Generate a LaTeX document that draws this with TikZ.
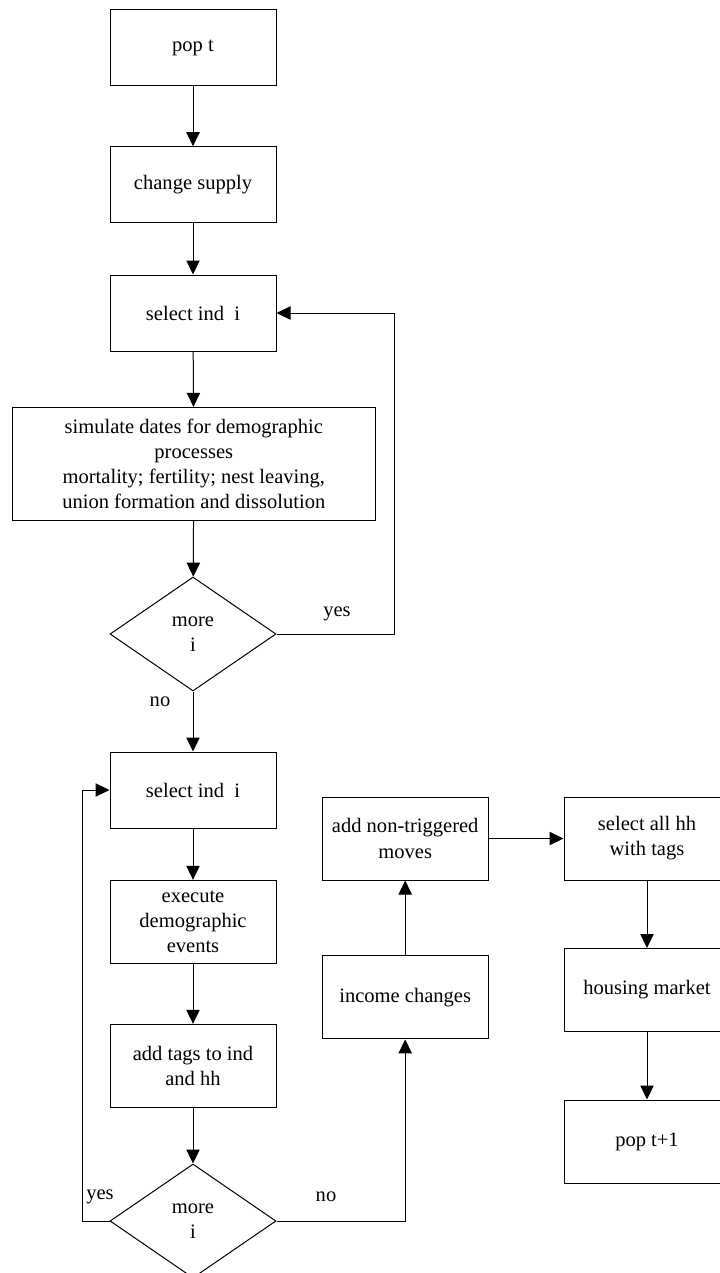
\documentclass[tikz,border=0pt]{standalone}
\usepackage{fontspec}
\setmainfont{Liberation Serif}
\usetikzlibrary{arrows.meta,shapes.geometric}
\begin{document}
\begin{tikzpicture}[x=0.75pt,y=-0.75pt,
  every node/.style={font=\fontsize{15.4pt}{18.8pt}\selectfont},
  stepbox/.style={draw, line width=0.75pt, minimum width=124.5pt, minimum height=57pt, inner sep=0pt, align=center},
  tallbox/.style={stepbox, minimum height=62.25pt},
  decision/.style={draw, diamond, line width=0.75pt, minimum width=124.5pt, minimum height=85.5pt, inner sep=0pt, align=center},
  flow/.style={-{Triangle[length=10.5pt,width=10pt]}, line width=0.75pt},
  lbl/.style={inner sep=0pt}]
\useasboundingbox (0,0) rectangle (720,1273);
\clip (0,0) rectangle (720,1273);

% first pass: demographic dates for every individual
\node[stepbox] (pop)  at (193,48)    {pop t};
\node[stepbox] (sup)  at (193,184.7) {change supply};
\node[stepbox] (sel1) at (193,313)   {select ind~~i};
\node[draw, line width=0.75pt, minimum width=272.25pt, minimum height=85pt, inner sep=0pt, align=center]
      (sim) at (193.8,464) {simulate dates for demographic\\processes\\mortality; fertility; nest leaving,\\union formation and dissolution};
\node[decision] (more1) at (193,634) {more\\i};

% second pass: execute events
\node[stepbox] (sel2) at (193,790)    {select ind~~i};
\node[tallbox] (exe)  at (193,921.8)  {execute\\demographic\\events};
\node[tallbox] (tags) at (193,1065.8) {add tags to ind\\and hh};
\node[decision] (more2) at (193,1221) {more\\i};

% middle column
\node[tallbox] (inc) at (405.2,997.4) {income changes};
\node[tallbox] (ntm) at (405.2,838.5) {add non-triggered\\moves};

% right column: housing market
\node[tallbox] (hh)   at (647,838.5)  {select all hh\\with tags};
\node[tallbox] (mkt)  at (647,990)    {housing market};
\node[tallbox] (pop1) at (647,1141.5) {pop t+1};

\coordinate (loop1) at (394,313);
\coordinate (loop2) at (82,790);

\draw[flow] (pop) -- (sup);
\draw[flow] (sup) -- (sel1);
\draw[flow] (sel1) -- (sim);
\draw[flow] (sim) -- (more1);
\draw[flow] (more1.east) -| (loop1) -- (sel1.east);
\draw[flow] (more1) -- (sel2);
\draw[flow] (sel2) -- (exe);
\draw[flow] (exe) -- (tags);
\draw[flow] (tags) -- (more2);
\draw[flow] (more2.west) -| (loop2) -- (sel2.west);
\draw[flow] (more2.east) -| (inc.south);
\draw[flow] (inc) -- (ntm);
\draw[flow] (ntm) -- (hh);
\draw[flow] (hh) -- (mkt);
\draw[flow] (mkt) -- (pop1);

\node[lbl] (yes1) at (337,614)  {yes};
\node[lbl] (no1)  at (160,702)  {no};
\node[lbl] (yes2) at (100,1197) {yes};
\node[lbl] (no2)  at (326,1197) {no};
\end{tikzpicture}
\end{document}
